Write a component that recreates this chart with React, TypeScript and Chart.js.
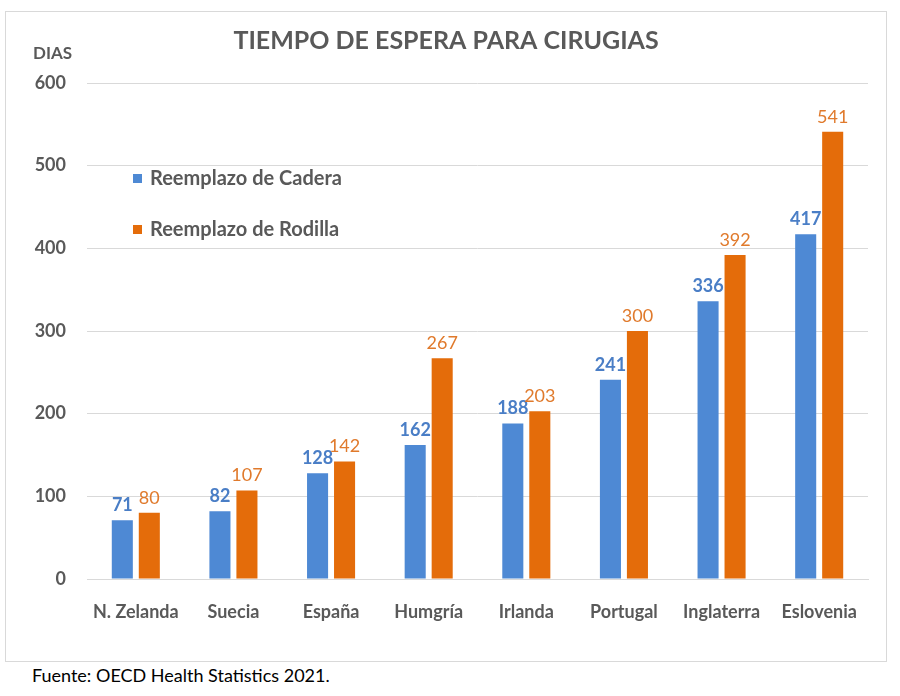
import { Chart, registerables } from "chart.js";
import { useEffect, useRef } from "react";

Chart.register(...registerables);

const countries = ["N. Zelanda", "Suecia", "España", "Humgría", "Irlanda", "Portugal", "Inglaterra", "Eslovenia"];
const cadera = [71, 82, 128, 162, 188, 241, 336, 417];
const rodilla = [80, 107, 142, 267, 203, 300, 392, 541];
const seriesNames = ["Reemplazo de Cadera", "Reemplazo de Rodilla"];
const yTicks = [0, 100, 200, 300, 400, 500, 600];

const BLUE = "#4e89d4";
const ORANGE = "#e46c0a";
const GRAY = "#595959";
const FONT = "Lato, 'Open Sans', sans-serif";

// title, "DIAS", legend inside the plot and value labels over the bars
const extras = {
  id: "extras",
  afterDatasetsDraw(chart: any) {
    const { ctx } = chart;
    ctx.save();
    ctx.fillStyle = GRAY;
    ctx.textAlign = "center";
    ctx.textBaseline = "middle";
    ctx.font = `bold 25px ${FONT}`;
    ctx.fillText("TIEMPO DE ESPERA PARA CIRUGIAS", 440, 29);
    ctx.textAlign = "left";
    ctx.font = `bold 17px ${FONT}`;
    ctx.fillText("DIAS", 27, 42);

    chart.data.datasets.forEach((ds: any, i: number) => {
      const y = 167 + i * 51;
      ctx.fillStyle = ds.backgroundColor;
      ctx.fillRect(127, y - 5, 9, 9);
      ctx.fillStyle = GRAY;
      ctx.font = `bold 20px ${FONT}`;
      ctx.fillText(ds.label, 144, y);
    });

    ctx.textAlign = "center";
    ctx.textBaseline = "bottom";
    chart.data.datasets.forEach((ds: any, i: number) => {
      const meta = chart.getDatasetMeta(i);
      ctx.fillStyle = i === 0 ? "#4a7ec6" : "#e07a2c";
      ctx.font = i === 0 ? `bold 18px ${FONT}` : `18px ${FONT}`;
      meta.data.forEach((bar: any, j: number) => {
        ctx.fillText(String(ds.data[j]), bar.x, bar.y - 6);
      });
    });
    ctx.restore();
  },
};

const WaitChart = () => {
  const chartRef = useRef<Chart | null>(null);
  const canvasRef = useRef<HTMLCanvasElement | null>(null);

  useEffect(() => {
    if (!canvasRef.current) return;
    if (chartRef.current) chartRef.current.destroy();
    const ctx = canvasRef.current.getContext("2d");
    if (!ctx) return;

    chartRef.current = new Chart(ctx, {
      type: "bar",
      data: {
        labels: countries,
        datasets: [
          { label: seriesNames[0], data: cadera, backgroundColor: BLUE, barPercentage: 0.78, categoryPercentage: 0.553 },
          { label: seriesNames[1], data: rodilla, backgroundColor: ORANGE, barPercentage: 0.78, categoryPercentage: 0.553 },
        ],
      },
      options: {
        animation: false,
        responsive: true,
        maintainAspectRatio: false,
        layout: { padding: { left: 0, top: 71, right: 18, bottom: 0 } },
        scales: {
          y: {
            min: 0,
            max: 600,
            afterFit: (scale: any) => {
              scale.width = 81;
            },
            afterBuildTicks: (scale: any) => {
              scale.ticks = yTicks.map((v) => ({ value: v }));
            },
            grid: { color: "#d9d9d9", drawTicks: false },
            border: { display: false },
            ticks: {
              color: GRAY,
              padding: 21,
              font: { family: FONT, size: 18, weight: "bold" },
            },
          },
          x: {
            afterFit: (scale: any) => {
              scale.height = 82;
            },
            grid: { display: false },
            border: { color: "#d9d9d9" },
            ticks: {
              color: GRAY,
              padding: 14,
              font: { family: FONT, size: 18, weight: "bold" },
            },
          },
        },
        plugins: {
          legend: { display: false },
          tooltip: { enabled: false },
        },
      },
      plugins: [extras],
    });

    return () => {
      if (chartRef.current) chartRef.current.destroy();
    };
  }, []);

  return (
    <div style={{ position: "fixed", left: 0, top: 0, width: 900, height: 696, background: "#fff" }}>
      <div
        style={{
          position: "absolute",
          left: 5,
          top: 11,
          width: 880,
          height: 649,
          border: "1px solid #d9d9d9",
        }}
      >
        <canvas ref={canvasRef}></canvas>
      </div>
      <div
        style={{
          position: "absolute",
          left: 32,
          top: 664,
          fontFamily: FONT,
          fontSize: 18,
          color: "#000",
        }}
      >
        Fuente: OECD Health Statistics 2021.
      </div>
    </div>
  );
};

export default function App() {
  return <WaitChart />;
}
